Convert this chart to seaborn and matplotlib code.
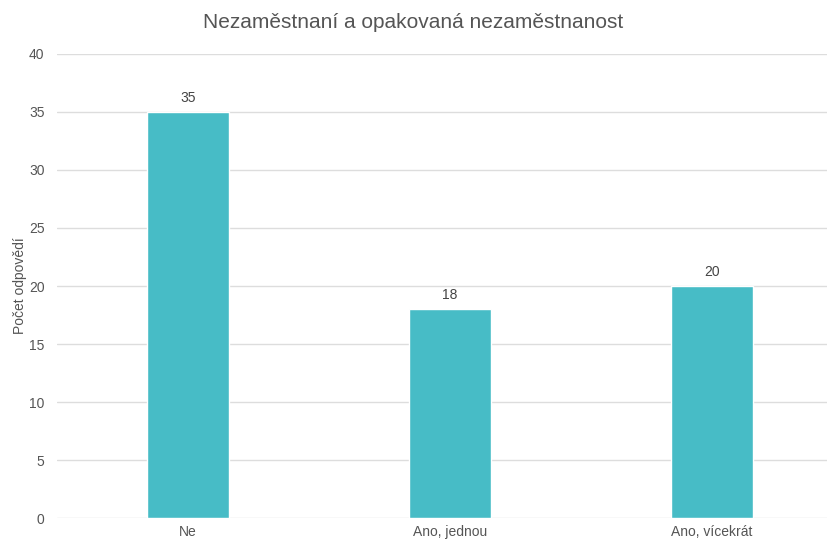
import matplotlib
matplotlib.use("Agg")
import matplotlib.pyplot as plt
import seaborn as sns
import pandas as pd

categories = ["Ne", "Ano, jednou", "Ano, vícekrát"]
values = [35, 18, 20]
yticks = [0, 5, 10, 15, 20, 25, 30, 35, 40]

sns.set_theme(style="white")
plt.rcParams['font.family'] = ['Liberation Sans', 'DejaVu Sans']

df = pd.DataFrame({"cat": categories, "val": values})
fig = plt.figure(figsize=(8.27, 5.40), dpi=100)
ax = fig.add_axes([57/827, 22/540, 1 - 57/827, 464/540])
sns.barplot(data=df, x="cat", y="val", color="#47BCC6", width=0.313, ax=ax, saturation=1)

ax.set_ylim(0, 40)
ax.set_yticks(yticks)
ax.set_xlim(-0.5, 2.439)
ax.yaxis.grid(True, color="#DDDDDD", linewidth=1)
ax.set_axisbelow(True)
for s in ax.spines.values():
    s.set_visible(False)
ax.tick_params(axis="both", length=0, colors="#555555", labelsize=10)
ax.tick_params(axis="y", pad=9)
ax.tick_params(axis="x", pad=5)
ax.set_xlabel("")
ax.set_ylabel("Počet odpovědí", color="#555555", fontsize=10, labelpad=1)
for c in ax.containers:
    ax.bar_label(c, labels=[str(v) for v in values], padding=5, color="#444444", fontsize=10)
fig.text(0.5, 1 - 22/540, "Nezaměstnaní a opakovaná nezaměstnanost", ha="center", va="center",
         fontsize=15, color="#555555")
fig.savefig("out.png", dpi=100)
